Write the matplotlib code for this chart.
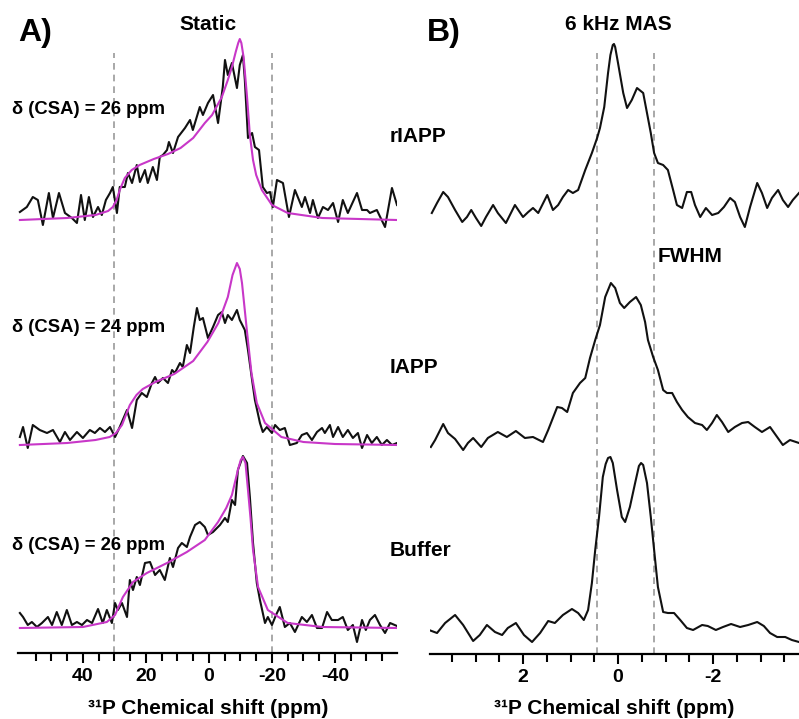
import matplotlib
matplotlib.use('Agg')
import matplotlib.pyplot as plt
from matplotlib.ticker import FixedLocator

plt.rcParams['font.family'] = ['Liberation Sans', 'DejaVu Sans']
plt.rcParams['font.weight'] = 'bold'
plt.rcParams['axes.unicode_minus'] = False

# ---- A) static 31P spectra (ppm, intensity a.u.) ----
riapp_ppm = [60.0, 57.8, 55.9, 54.3, 52.7, 50.8, 49.5, 47.6, 45.7, 43.5, 41.9, 40.6, 39.4, 38.1,
             36.8, 35.2, 34.0, 32.7, 31.4, 30.5, 29.2, 28.3, 26.7, 25.7, 24.4, 22.9, 21.9, 20.3,
             19.4, 17.8, 16.5, 15.6, 14.6, 13.3, 12.7, 11.4, 9.8, 7.6, 6.0, 5.1, 2.9, 1.9, 0.3,
             -1.3, -2.9, -4.4, -5.1, -6.0, -7.3, -8.9, -9.8, -10.8, -11.4, -12.4, -13.7, -14.6,
             -15.9, -17.1, -18.4, -19.4, -20.3, -21.6, -23.5, -25.4, -27.3, -29.5, -30.5, -32.1,
             -33.0, -34.6, -36.2, -37.8, -39.4, -41.0, -42.5, -44.1, -47.0, -48.6, -50.2, -51.1,
             -53.3, -55.9, -58.1, -59.7]
riapp_int = [8, 13, 23, 20, -5, 27, 2, 27, 7, 2, -3, 25, 0, 23,
             3, 13, 5, 20, 27, 33, 7, 33, 33, 47, 37, 55, 38, 50,
             37, 53, 40, 63, 65, 70, 78, 67, 83, 92, 100, 90, 113, 105, 117,
             125, 97, 133, 160, 145, 157, 132, 155, 165, 140, 82, 87, 73,
             70, 33, 27, 28, 13, 40, 37, 3, 30, 13, 23, 7,
             20, 2, 13, 10, 17, -2, 20, 7, 27, 10, 10, 7,
             10, -7, 32, 15]
riapp_fit_ppm = [60, 45, 36, 32, 30.5, 29.3, 28.3, 26.7, 24.5, 22, 17.5, 13, 9, 5, 1.3, -1, -4.1,
                 -6, -7.3, -8.5, -9.3, -9.8, -10.3, -11, -12.1, -13, -14, -15, -16.8, -20, -25,
                 -36, -59.7]
riapp_fit_int = [0, 2, 5, 9, 13, 20, 30, 42, 50, 55, 61, 66, 72, 82, 97, 105, 123,
                 140, 153, 168, 177, 181, 177, 163, 123, 85, 60, 45, 30, 15, 7,
                 2, 0]

iapp_ppm = [60.0, 59.0, 57.5, 55.9, 53.7, 51.4, 49.5, 47.3, 45.7, 44.1, 41.9, 40.0, 37.8, 36.2,
            34.6, 33.0, 31.4, 29.8, 28.3, 26.0, 24.4, 22.9, 21.3, 19.7, 18.1, 17.1, 16.2, 14.6,
            13.0, 11.7, 10.8, 9.2, 8.3, 7.0, 6.0, 4.8, 3.8, 2.9, 1.9, 0.3, -1.3, -2.9, -4.1,
            -5.1, -6.0, -7.3, -8.9, -9.8, -11.4, -12.4, -13.7, -14.6, -16.2, -17.1, -18.4,
            -20.0, -21.0, -22.5, -24.1, -25.7, -27.9, -29.5, -31.1, -32.7, -34.3, -35.9, -36.8,
            -38.4, -39.4, -41.0, -42.5, -44.1, -45.7, -47.3, -48.6, -50.2, -51.7, -53.3, -54.9,
            -56.5, -58.1, -59.7]
iapp_int = [8, 18, -3, 20, 15, 12, 15, 3, 13, 5, 13, 7, 15, 12,
            17, 13, 18, 8, 18, 35, 17, 45, 52, 48, 62, 68, 62, 67,
            62, 75, 72, 82, 78, 100, 92, 118, 137, 125, 127, 107, 118, 130, 133,
            122, 130, 125, 135, 125, 115, 95, 65, 45, 22, 13, 18,
            12, 20, 15, 17, 0, 2, 10, 12, 5, 13, 17, 12,
            20, 8, 18, 8, 15, 7, 12, -3, 10, 2, 8, 0,
            5, 0, 2]
iapp_fit_ppm = [60, 45, 36, 31.5, 29.5, 27.6, 25.1, 23, 21, 17, 11, 5, 0.5, -3, -6, -7.5, -8.9,
                -9.8, -10.5, -12.1, -13.5, -15.2, -17.8, -23, -30, -40, -59.7]
iapp_fit_int = [0, 2, 5, 8, 12, 20, 40, 50, 56, 63, 71, 84, 103, 122, 148, 170, 182,
                176, 162, 113, 72, 42, 22, 8, 3, 1, 0]

buffer_ppm = [60.0, 59.0, 57.5, 56.2, 54.6, 53.0, 51.1, 49.8, 48.3, 46.7, 45.1, 43.5, 41.9, 40.3,
              38.7, 37.1, 35.2, 33.7, 32.4, 30.8, 29.8, 28.9, 27.6, 26.0, 25.1, 24.1, 22.9, 21.9,
              20.3, 18.7, 17.1, 15.6, 14.0, 12.4, 11.4, 9.8, 8.6, 7.0, 6.0, 4.4, 2.9, 1.3, 0.3,
              -1.3, -3.5, -5.1, -6.0, -7.3, -8.3, -9.2, -10.8, -12.1, -13.0, -14.0, -15.2, -16.2,
              -17.8, -18.7, -20.0, -21.3, -22.5, -24.1, -25.7, -27.3, -29.5, -31.1, -32.7, -34.3,
              -35.9, -37.5, -39.0, -41.0, -42.5, -44.1, -45.7, -47.0, -48.6, -49.8, -51.1, -52.7,
              -54.3, -55.9, -57.5, -59.7]
buffer_int = [15, 11, 3, 6, 1, 5, 11, 3, 16, 3, 18, 3, 6, 3,
              8, 5, 19, 5, 18, 5, 25, 18, 25, 11, 48, 38, 51, 43,
              65, 66, 53, 58, 48, 70, 61, 80, 85, 81, 91, 103, 106, 101, 93,
              96, 103, 110, 106, 128, 123, 158, 172, 165, 131, 85, 45, 28,
              5, 11, 3, 13, 21, 1, 5, -4, 11, 6, 13, 0,
              0, 16, 8, 8, 11, -2, 3, -14, 8, -2, 8, 13,
              3, -5, 5, 2]
buffer_fit_ppm = [60, 40, 32.4, 29.8, 27.3, 24.1, 19.7, 13.3, 7, 1.3, -2.9, -5.5, -7.3, -9.2,
                  -10.1, -10.8, -11.6, -12.4, -13.2, -14, -15.6, -18.7, -25, -36, -59.7]
buffer_fit_int = [0, 1, 6, 13, 31, 46, 55, 65, 76, 88, 106, 120, 133, 158,
                  168, 171, 165, 138, 110, 78, 41, 18, 5, 1, 0]

# ---- B) 6 kHz MAS spectra ----
mas_riapp_ppm = [3.92, 3.81, 3.68, 3.58, 3.43, 3.28, 3.18, 3.09, 2.99, 2.88, 2.78, 2.63, 2.53,
                 2.36, 2.17, 2.00, 1.89, 1.79, 1.68, 1.49, 1.37, 1.26, 1.16, 1.05, 0.95, 0.84,
                 0.69, 0.55, 0.44, 0.38, 0.29, 0.21, 0.16, 0.11, 0.085, 0.06, 0.00, -0.11, -0.19,
                 -0.29, -0.40, -0.53, -0.61, -0.69, -0.76, -0.84, -0.95, -1.05, -1.16, -1.24,
                 -1.35, -1.45, -1.54, -1.62, -1.73, -1.85, -1.98, -2.11, -2.23, -2.36, -2.46,
                 -2.57, -2.67, -2.78, -2.93, -3.03, -3.14, -3.24, -3.37, -3.47, -3.58, -3.68,
                 -3.81]
mas_riapp_int = [12, 22, 33, 28, 15, 3, 8, 15, 7, -1, 8, 20, 12,
                 2, 20, 8, 13, 17, 12, 30, 15, 20, 28, 35, 32, 35,
                 55, 72, 87, 97, 118, 152, 170, 180, 181, 178, 162, 132, 117,
                 125, 137, 132, 112, 92, 72, 62, 60, 55, 35, 20,
                 17, 33, 33, 20, 8, 17, 10, 12, 18, 27, 23,
                 8, -2, 18, 42, 32, 17, 27, 35, 25, 18, 25,
                 32]
mas_iapp_ppm = [3.94, 3.85, 3.68, 3.58, 3.43, 3.26, 3.16, 3.05, 2.88, 2.74, 2.53, 2.34, 2.15,
                1.96, 1.79, 1.58, 1.47, 1.28, 1.18, 1.07, 0.95, 0.80, 0.69, 0.59, 0.48, 0.38,
                0.27, 0.15, 0.06, -0.04, -0.13, -0.25, -0.38, -0.48, -0.57, -0.63, -0.74, -0.84,
                -0.95, -1.03, -1.14, -1.24, -1.35, -1.47, -1.62, -1.77, -1.87, -1.98, -2.08,
                -2.19, -2.32, -2.46, -2.61, -2.74, -2.88, -3.03, -3.20, -3.35, -3.47, -3.62,
                -3.81]
mas_iapp_int = [3, 10, 26, 17, 11, 0, 7, 12, 3, 12, 18, 13, 19,
                12, 13, 8, 20, 43, 42, 38, 57, 67, 72, 92, 110, 125,
                153, 167, 162, 147, 142, 148, 153, 145, 128, 110, 93, 80,
                60, 57, 57, 48, 40, 33, 27, 25, 20, 27, 35,
                28, 18, 23, 27, 28, 23, 18, 23, 13, 5, 10,
                7]
mas_buffer_ppm = [3.98, 3.81, 3.64, 3.43, 3.26, 3.05, 2.91, 2.76, 2.59, 2.44, 2.32, 2.15, 1.98,
                  1.81, 1.64, 1.47, 1.33, 1.16, 0.97, 0.84, 0.72, 0.63, 0.55, 0.48, 0.40, 0.32,
                  0.26, 0.21, 0.16, 0.11, 0.02, -0.08, -0.15, -0.25, -0.36, -0.44, -0.485, -0.53,
                  -0.61, -0.69, -0.76, -0.84, -0.95, -1.05, -1.18, -1.31, -1.45, -1.58, -1.77,
                  -1.89, -2.06, -2.21, -2.38, -2.57, -2.74, -2.93, -3.07, -3.20, -3.35, -3.52,
                  -3.66, -3.81]
mas_buffer_int = [10, 7, 17, 25, 15, -1, 5, 15, 8, 5, 12, 17, 5,
                  -2, 7, 19, 17, 25, 31, 27, 20, 30, 57, 90, 123, 163,
                  176, 182, 183, 177, 150, 123, 118, 133, 157, 174, 177, 175,
                  157, 123, 90, 53, 28, 27, 27, 20, 12, 10, 15,
                  14, 10, 13, 16, 13, 15, 18, 14, 7, 3, 3,
                  0, -2]

static_traces = [(riapp_ppm, riapp_int, riapp_fit_ppm, riapp_fit_int),
                 (iapp_ppm, iapp_int, iapp_fit_ppm, iapp_fit_int),
                 (buffer_ppm, buffer_int, buffer_fit_ppm, buffer_fit_int)]
mas_traces = [(mas_riapp_ppm, mas_riapp_int),
              (mas_iapp_ppm, mas_iapp_int),
              (mas_buffer_ppm, mas_buffer_int)]
samples = ['rIAPP', 'IAPP', 'Buffer']
csa = [26, 24, 26]
static_major = [40, 20, 0, -20, -40]
static_minor = [55, 50, 45, 35, 30, 25, 15, 10, 5, -5, -10, -15, -25, -30, -35, -45, -50, -55]
mas_major = [2, 0, -2]
mas_minor = [3.5, 3, 2.5, 1.5, 1, 0.5, -0.5, -1, -1.5, -2.5, -3, -3.5]

W, H = 799, 719
fig = plt.figure(figsize=(W / 100, H / 100), dpi=100)
fig.set_facecolor('white')


def fpos(x, y):
    # pixel position -> figure fraction
    return x / W, 1 - y / H


def style_axis(ax, major, minor):
    for side in ['left', 'right', 'top']:
        ax.spines[side].set_visible(False)
    ax.spines['bottom'].set_linewidth(1.6)
    ax.set_yticks([])
    ax.xaxis.set_major_locator(FixedLocator(major))
    ax.xaxis.set_minor_locator(FixedLocator(minor))
    ax.tick_params(axis='x', which='both', direction='out', width=1.5, labelsize=14, pad=4)
    ax.tick_params(axis='x', which='major', length=7)
    ax.tick_params(axis='x', which='minor', length=6)
    ax.patch.set_alpha(0)


black = '#111111'
magenta = '#C837C8'
dash_col = '#9a9a9a'

# panel A
ax_a = fig.add_axes([18 / W, 1 - 653 / H, 379 / W, 653 / H])
offsets_a = [433, 208, 25]
for (x, y, fx, fy), off in zip(static_traces, offsets_a):
    ax_a.plot(x, [v + off for v in y], color=black, lw=1.5, zorder=3)
    ax_a.plot(fx, [v + off for v in fy], color=magenta, lw=1.5, zorder=4)
ax_a.vlines([30, -20], 0, 600, colors=dash_col, linestyles=(0, (4, 3)), lw=1.2, zorder=1)
ax_a.set_xlim(60.6, -59.7)
ax_a.set_ylim(0, 653)
style_axis(ax_a, static_major, static_minor)

# panel B
ax_b = fig.add_axes([430 / W, 1 - 654 / H, 369 / W, 654 / H])
offsets_b = [429, 204, 14]
for (x, y), off in zip(mas_traces, offsets_b):
    ax_b.plot(x, [v + off for v in y], color=black, lw=1.5, zorder=3)
ax_b.vlines([0.44, -0.76], 0, 601, colors=dash_col, linestyles=(0, (4, 3)), lw=1.2, zorder=1)
ax_b.set_xlim(3.958, -3.81)
ax_b.set_ylim(0, 654)
style_axis(ax_b, mas_major, mas_minor)

# labels
fig.text(*fpos(18, 33), 'A)', fontsize=23, ha='left', va='center')
fig.text(*fpos(427, 33), 'B)', fontsize=23, ha='left', va='center')
fig.text(*fpos(208, 24), 'Static', fontsize=15, ha='center', va='center')
fig.text(*fpos(618, 24), '6 kHz MAS', fontsize=15, ha='center', va='center')
fig.text(*fpos(658, 257), 'FWHM', fontsize=15, ha='left', va='center')
for name, d, ly, cy in zip(samples, csa, [136, 367, 551], [110, 328, 545]):
    fig.text(*fpos(390, ly), name, fontsize=15, ha='left', va='center')
    fig.text(*fpos(12, cy), 'δ (CSA) = %d ppm' % d, fontsize=13.3, ha='left', va='center')
fig.text(*fpos(208, 708), '³¹P Chemical shift (ppm)', fontsize=15, ha='center', va='center')
fig.text(*fpos(614, 708), '³¹P Chemical shift (ppm)', fontsize=15, ha='center', va='center')

fig.savefig('out.png', dpi=100, facecolor='white')
